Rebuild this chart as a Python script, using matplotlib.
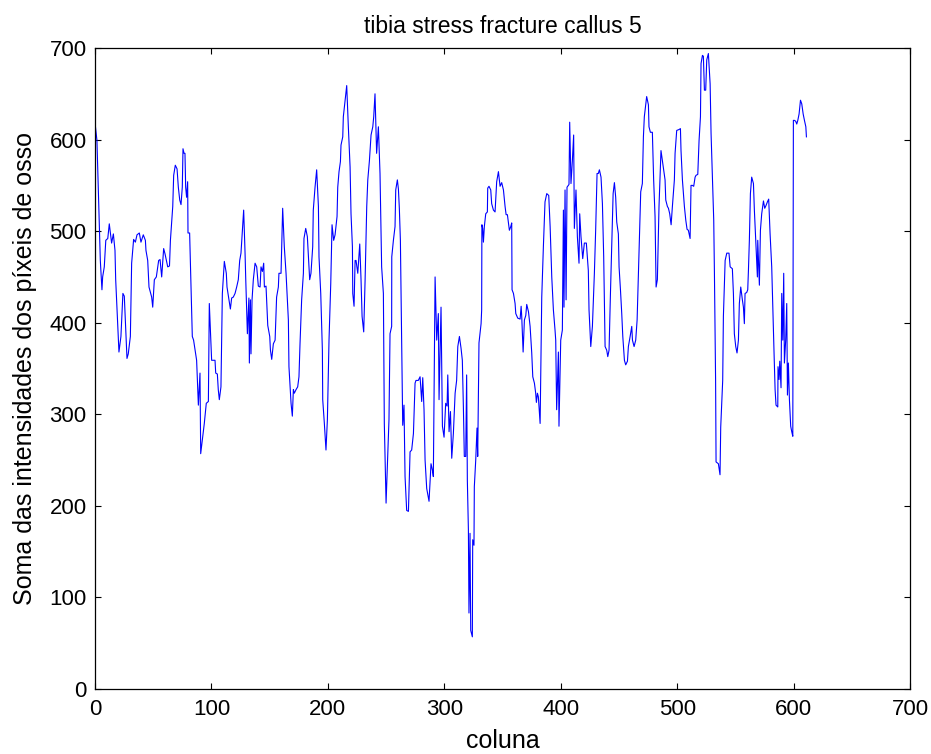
import numpy as np
import matplotlib
matplotlib.use("Agg")
import matplotlib.pyplot as plt

plt.rcParams['font.family'] = ['Liberation Sans', 'DejaVu Sans']

# vertices (coluna, soma)
coluna = [0, 1.7, 4.6, 6, 6.6, 8, 9.3, 11, 12.3, 14.3, 15.8, 17.2, 17.8, 20.6, 22.3, 24, 25.2, 27.5, 28.6, 30.4,
          31.5, 33.2, 34.7, 36.1, 38.1, 39.5, 41.5, 43.3, 43.8, 45.3, 46.4, 48.7, 49.6, 51, 52.7, 54.7, 55.9, 57.3, 59, 60.2,
          62.5, 64, 64.8, 66.8, 67.6, 69, 70.5, 71.6, 72.8, 73.9, 75, 75.6, 76.5, 77.3, 77.9, 78.7, 79.6, 79.9, 81.3, 83.6,
          84.7, 87.3, 88.8, 90.2, 90.8, 92.2, 93.9, 95.6, 97.4, 98.2, 99.1, 100.2, 103.1, 103.7, 105.1, 105.9, 106.8, 108.2, 109.4, 111.1,
          112.8, 113.4, 115.1, 116.3, 117.4, 118.8, 120.3, 121.7, 123.1, 124.3, 125.4, 127.7, 128.9, 129.5, 130.9, 132.2, 132.6, 133.5, 134, 134.9,
          136, 137.5, 138.9, 140.3, 141.8, 142.6, 143.8, 144.9, 145.5, 146.9, 148.4, 150.1, 150.7, 151.8, 153.2, 154.7, 156, 157.5, 158, 159.8,
          161.2, 162.6, 164.1, 166.1, 166.6, 168.4, 169.5, 170.4, 171.2, 172.7, 174.1, 175.2, 176.1, 177.5, 179, 179.5, 181, 182.4, 183.3, 184.4,
          185.5, 187, 187.5, 189, 190.4, 191.9, 192.4, 193.9, 195.3, 195.6, 197, 198.4, 199.6, 201, 202.5, 203.6, 205, 206.2, 207.9, 208.5,
          209.6, 210.8, 211.3, 212.8, 213.3, 214.8, 216.2, 217.6, 219.1, 219.9, 221.1, 221.4, 222.5, 223.4, 224.2, 225.7, 227.4, 228.5, 229.4, 230.8,
          232, 233.4, 234.3, 235.7, 237.1, 238.6, 239.4, 240.5, 241.9, 243.4, 244.8, 246.2, 247.7, 248.5, 250, 251.1, 252.5, 253.4, 254.8, 254.9,
          256.3, 257.7, 258.3, 259.7, 260.6, 261.4, 262.3, 263.4, 264.3, 265.4, 266.3, 267.7, 269.2, 270.6, 272, 273.5, 274.9, 275.7, 277.7, 279.2,
          280.6, 281.5, 282.6, 283.5, 284.9, 286.9, 288.6, 289.8, 290.6, 291.2, 292.1, 293.5, 294.9, 295.5, 297.2, 298.4, 299.8, 301.2, 302.4, 303,
          304.1, 305.3, 306.4, 307.8, 309.3, 310.6, 311.6, 313, 314.4, 315.5, 316.4, 317.2, 318.4, 319.2, 319.8, 320.7, 321.2, 322.1, 322.7, 324.1,
          324.4, 325.5, 325.8, 327, 328.1, 328.7, 329.8, 331.6, 332.1, 332.3, 333, 333.6, 334.4, 335.6, 337, 337.3, 338.4, 339.9, 340.7, 342.2,
          343.6, 345, 346.5, 347.9, 349.3, 350.8, 352.2, 353.1, 354.2, 355.1, 355.9, 357.1, 357.9, 358.2, 359.4, 360.8, 361.4, 363.1, 365.1, 366,
          366.5, 367.7, 368.8, 370, 370.8, 372.3, 373.7, 375.1, 376, 377.4, 378.5, 379.1, 380, 380.8, 382.3, 383.7, 385.1, 386.5, 388, 389.7,
          390.9, 392.3, 393.7, 395.1, 395.7, 396.5, 398, 398.5, 400, 401.4, 402.3, 402.8, 403.7, 404.6, 405.4, 407.1, 407.7, 408.8, 410, 411.1,
          411.7, 413.1, 414.3, 415.7, 416.3, 417.4, 418.9, 420.3, 422, 423.7, 424.3, 425.8, 427.2, 428.9, 430, 431.2, 432.3, 433.2, 434.6, 435.8,
          436.9, 438.1, 439.5, 440.4, 441.5, 442.7, 443.8, 445, 446.1, 447.2, 448.1, 449.5, 450.1, 451.3, 452.4, 453.3, 454.7, 455.8, 457.3, 458.1,
          459.6, 461, 461.6, 463, 464.4, 465.6, 467.2, 468.7, 470.1, 471, 471.8, 473.8, 475.3, 475.8, 477, 478.7, 479.8, 481, 481.9, 483,
          484.4, 486.1, 487.6, 489.6, 490.2, 491.6, 492.5, 493.6, 494.8, 495.9, 497.6, 498.2, 499.6, 501.6, 502.8, 503.3, 504.5, 506.2, 507.4, 508.5,
          509.6, 511.1, 511.9, 513.1, 514.2, 515.4, 516.2, 517.7, 518.8, 520, 520.5, 521.7, 522.5, 523.4, 524.5, 525.4, 526.8, 528.3, 529.1, 530.3,
          531.4, 532, 533, 533.4, 535.4, 536.8, 537.4, 539.1, 539.7, 541.2, 542.6, 544.5, 545.5, 547.4, 548.3, 549.1, 550.3, 551.4, 552.6, 553.4,
          554.6, 556, 556.9, 557.7, 558.3, 559.7, 560.6, 561.2, 562, 562.9, 564, 565.5, 566.3, 567.5, 568.9, 569.2, 570.6, 571.5, 572.6, 574.1,
          575.2, 576.3, 577.5, 578.6, 579.8, 581.2, 582.1, 583.2, 584.1, 584.9, 586.4, 586.6, 587.5, 588.1, 589.2, 589.8, 590.7, 591.5, 592.1, 593.2,
          594.1, 594.7, 595.5, 596.4, 597.5, 598.4, 599.3, 599.8, 600.7, 601.8, 602.7, 603.6, 604.7, 605.9, 607, 608.2, 609.3, 610.5, 611]

soma = [619, 599, 468, 436, 450, 461, 490, 492, 508, 487, 497, 479, 447, 368, 385, 432, 429, 361, 366, 385,
        465, 491, 488, 496, 498, 488, 496, 490, 479, 468, 439, 428, 417, 447, 450, 468, 469, 450, 481, 475,
        461, 462, 490, 527, 561, 572, 568, 548, 534, 529, 548, 590, 585, 585, 548, 537, 554, 498, 498, 385,
        381, 359, 310, 345, 257, 272, 290, 312, 314, 421, 392, 359, 359, 345, 344, 327, 316, 330, 432, 467,
        454, 439, 425, 415, 427, 428, 432, 439, 447, 468, 476, 523, 476, 447, 388, 427, 356, 425, 366, 425,
        447, 465, 461, 440, 439, 461, 456, 465, 439, 440, 397, 385, 370, 360, 377, 381, 428, 439, 454, 454,
        525, 483, 454, 403, 352, 312, 298, 327, 323, 327, 330, 341, 377, 425, 454, 492, 503, 494, 472, 447,
        454, 483, 523, 548, 567, 527, 472, 432, 370, 316, 290, 261, 294, 381, 443, 507, 490, 496, 516, 548,
        565, 576, 594, 603, 625, 643, 659, 614, 570, 519, 483, 432, 418, 468, 468, 454, 486, 447, 407, 390,
        447, 527, 556, 577, 605, 614, 625, 650, 585, 614, 563, 461, 432, 290, 203, 243, 294, 388, 396, 472,
        490, 505, 545, 556, 546, 525, 490, 381, 288, 310, 232, 195, 194, 259, 261, 279, 334, 337, 337, 341,
        314, 340, 305, 250, 219, 205, 246, 239, 232, 316, 450, 381, 410, 316, 417, 287, 275, 312, 309, 343,
        281, 303, 252, 279, 323, 337, 374, 385, 372, 359, 308, 254, 254, 343, 228, 174, 83, 170, 64, 57,
        163, 157, 221, 250, 285, 254, 378, 399, 414, 507, 503, 488, 505, 519, 521, 547, 549, 545, 530, 523,
        521, 554, 565, 549, 553, 545, 527, 518, 518, 509, 501, 505, 509, 436, 432, 421, 410, 405, 404, 418,
        407, 368, 403, 408, 420, 412, 396, 367, 341, 334, 323, 313, 323, 319, 290, 428, 483, 532, 541, 539,
        505, 450, 414, 392, 381, 305, 368, 287, 381, 392, 523, 417, 545, 425, 548, 551, 619, 552, 577, 605,
        503, 545, 494, 465, 519, 494, 470, 487, 487, 457, 414, 374, 396, 454, 501, 563, 563, 567, 559, 530,
        472, 374, 370, 363, 370, 432, 483, 541, 553, 537, 510, 497, 461, 436, 410, 385, 359, 354, 358, 374,
        385, 396, 381, 374, 381, 403, 476, 543, 552, 603, 625, 647, 638, 614, 608, 608, 556, 516, 439, 447,
        527, 588, 574, 556, 534, 527, 525, 519, 507, 527, 556, 585, 610, 611, 612, 588, 556, 527, 512, 502,
        501, 492, 550, 550, 549, 559, 561, 562, 599, 625, 683, 692, 691, 654, 654, 687, 694, 661, 607, 559,
        512, 454, 337, 248, 246, 234, 286, 337, 407, 468, 476, 476, 461, 459, 432, 388, 374, 367, 381, 421,
        439, 425, 417, 399, 432, 433, 436, 457, 490, 541, 559, 552, 523, 490, 450, 490, 441, 501, 519, 533,
        525, 528, 532, 535, 497, 461, 417, 367, 327, 310, 308, 352, 338, 358, 329, 432, 381, 454, 356, 381,
        421, 321, 356, 316, 287, 281, 276, 621, 621, 620, 617, 621, 628, 643, 639, 628, 621, 614, 603]

xticks = [0, 100, 200, 300, 400, 500, 600, 700]
yticks = [0, 100, 200, 300, 400, 500, 600, 700]

fig = plt.figure(figsize=(9.31, 7.54), dpi=100)
ax = fig.add_axes([0.102, 0.0862, 0.8755, 0.8501])

ax.plot(coluna, soma, color='#0000ff', linewidth=0.8)

ax.set_xlim(0, 700)
ax.set_ylim(0, 700)
ax.set_xticks(xticks)
ax.set_yticks(yticks)
ax.tick_params(direction='in', length=4, width=0.8, top=True, right=True, labelsize=16)
ax.tick_params(axis='x', pad=7)
ax.tick_params(axis='y', pad=6)
for s in ax.spines.values():
    s.set_linewidth(0.9)

ax.set_title('tibia stress fracture callus 5', fontsize=16.5, pad=11)
ax.set_xlabel('coluna', fontsize=18, labelpad=7)
ax.set_ylabel('Soma das intensidades dos píxeis de osso', fontsize=18, labelpad=9)

fig.savefig('out.png', dpi=100)
